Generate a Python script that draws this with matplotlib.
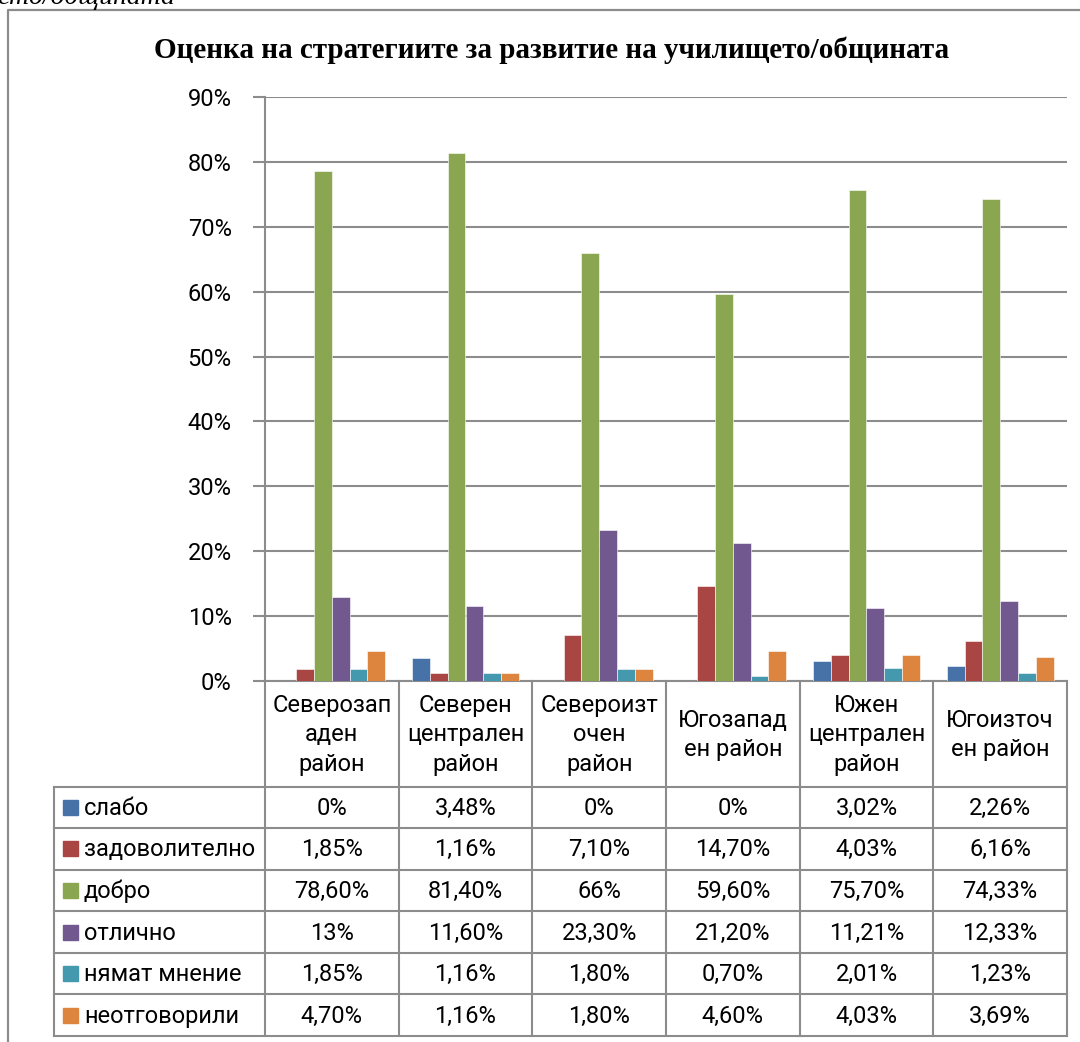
import matplotlib
matplotlib.use('Agg')
import matplotlib.pyplot as plt
import numpy as np

plt.rcParams['font.family'] = ['Roboto', 'DejaVu Sans']

# data
regions = ['Северозап\nаден\nрайон', 'Северен\nцентрален\nрайон', 'Североизт\nочен\nрайон',
           'Югозапад\nен район', 'Южен\nцентрален\nрайон', 'Югоизточ\nен район']
series = ['слабо', 'задоволително', 'добро', 'отлично', 'нямат мнение', 'неотговорили']
slabo = [0, 3.48, 0, 0, 3.02, 2.26]
zadovolitelno = [1.85, 1.16, 7.10, 14.70, 4.03, 6.16]
dobro = [78.60, 81.40, 66, 59.60, 75.70, 74.33]
otlichno = [13, 11.60, 23.30, 21.20, 11.21, 12.33]
nyamat = [1.85, 1.16, 1.80, 0.70, 2.01, 1.23]
neotgovorili = [4.70, 1.16, 1.80, 4.60, 4.03, 3.69]
values = [slabo, zadovolitelno, dobro, otlichno, nyamat, neotgovorili]
colors = ['#4672A8', '#A94543', '#8BA650', '#71588F', '#4499AF', '#DD853F']
title = 'Оценка на стратегиите за развитие на училището/общината'

W, H = 1080, 1042
GRAY = '#8C8C8C'


def fmt(v):
    if float(v).is_integer():
        return '%d%%' % v
    return ('%.2f%%' % v).replace('.', ',')


fig = plt.figure(figsize=(W / 100, H / 100), dpi=100)

# background layer in pixel coordinates for frame and table
bg = fig.add_axes([0, 0, 1, 1], zorder=0)
bg.set_xlim(0, W)
bg.set_ylim(H, 0)
bg.axis('off')

# outer frame (clipped on right and bottom, like the page crop)
bg.plot([8, 8, W + 5], [H + 5, 10, 10], color=GRAY, lw=1.6)
bg.text(-3, 4, 'ето/общината', fontsize=20, style='italic', family='Liberation Serif',
        ha='left', va='baseline')

bg.text(552, 50, title, fontsize=21, fontweight='bold', family='Liberation Serif',
        ha='center', va='center')

# main chart
L, R, T, B = 265, 1067, 97, 681
ax = fig.add_axes([L / W, 1 - B / H, (R - L) / W, (B - T) / H], zorder=1)
ax.patch.set_alpha(0)
n = len(regions)
x = np.arange(n)
bw = 0.8 / len(series)
for i, (vals, c) in enumerate(zip(values, colors)):
    ax.bar(x + (i - 2.5) * bw, vals, bw, color=c, edgecolor='white', linewidth=0.4, zorder=3)

ax.set_xlim(-0.5, n - 0.5)
ax.set_ylim(0, 90)
ax.set_yticks(np.arange(0, 91, 10))
ax.set_yticklabels(['%d%%' % t for t in range(0, 91, 10)], fontsize=17)
ax.yaxis.grid(True, color=GRAY, lw=1.5, zorder=0)
ax.tick_params(axis='y', length=9, width=1.5, color=GRAY, pad=15)
ax.tick_params(axis='x', length=0, labelbottom=False)
for s in ['top', 'right']:
    ax.spines[s].set_visible(False)
for s in ['left', 'bottom']:
    ax.spines[s].set_color(GRAY)
    ax.spines[s].set_linewidth(1.5)

# data table
colw = (R - L) / n
col_x = [L + i * colw for i in range(n + 1)]
hdr_bottom = 786.5
row_h = (1036 - hdr_bottom) / len(series)
row_y = [hdr_bottom + i * row_h for i in range(len(series) + 1)]
tab_left = 54

for cx in col_x:
    bg.plot([cx, cx], [B, row_y[-1]], color=GRAY, lw=1.5)
bg.plot([tab_left, tab_left], [row_y[0], row_y[-1]], color=GRAY, lw=1.5)
for ry in row_y:
    bg.plot([tab_left, R], [ry, ry], color=GRAY, lw=1.5)

for j, reg in enumerate(regions):
    bg.text((col_x[j] + col_x[j + 1]) / 2, (B + hdr_bottom) / 2 + 1, reg, fontsize=17,
            ha='center', va='center', linespacing=1.35)

for i, (name, vals, c) in enumerate(zip(series, values, colors)):
    cy = (row_y[i] + row_y[i + 1]) / 2
    bg.add_patch(plt.Rectangle((62.5, cy - 7.5), 15, 15, color=c))
    bg.text(84, cy + 1, name, fontsize=17, ha='left', va='center')
    for j, v in enumerate(vals):
        bg.text((col_x[j] + col_x[j + 1]) / 2, cy + 1, fmt(v), fontsize=17,
                ha='center', va='center')

fig.savefig('out.png', dpi=100)
